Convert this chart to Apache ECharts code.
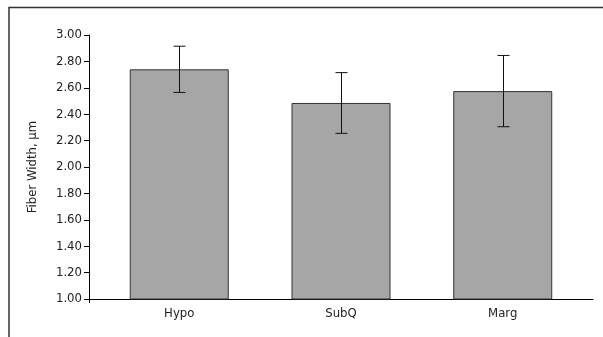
<!DOCTYPE html>
<html>
<head>
<meta charset="utf-8">
<script src="https://cdn.jsdelivr.net/npm/echarts@6/dist/echarts.min.js"></script>
<style>
  html, body { margin: 0; padding: 0; background: #fff; }
  #chart { width: 603px; height: 337px; }
</style>
</head>
<body>
<div id="chart"></div>
<script>
  // values
  const categories = ['Hypo', 'SubQ', 'Marg']
  const means = [2.74, 2.485, 2.575]
  const errors = [0.175, 0.23, 0.27]
  const yTicks = [1.0, 1.2, 1.4, 1.6, 1.8, 2.0, 2.2, 2.4, 2.6, 2.8, 3.0]

  const xMin = -0.558
  const xMax = 2.558
  const font = '"DejaVu Sans Condensed", "Liberation Sans", Arial, sans-serif'

  const chart = echarts.init(document.getElementById('chart'))

  const option = {
    animation: false,
    backgroundColor: '#fff',
    grid: { left: 89, right: 10, top: 35, bottom: 38 },
    xAxis: {
      type: 'value',
      min: xMin,
      max: xMax,
      axisLine: { show: true, onZero: false, lineStyle: { color: '#000', width: 1 } },
      axisTick: { show: true, customValues: [xMin], length: 4, lineStyle: { color: '#000' } },
      splitLine: { show: false },
      axisLabel: {
        customValues: [0, 1, 2],
        formatter: v => categories[Math.round(v)],
        color: '#222',
        fontFamily: font,
        fontSize: 13,
        margin: 8
      }
    },
    yAxis: {
      type: 'value',
      min: yTicks[0],
      max: yTicks[yTicks.length - 1],
      interval: 0.2,
      name: 'Fiber Width, µm',
      nameLocation: 'middle',
      nameGap: 50,
      nameTextStyle: { color: '#222', fontFamily: font, fontSize: 13 },
      axisLine: { show: true, onZero: false, lineStyle: { color: '#000', width: 1 } },
      axisTick: { show: true, length: 5, lineStyle: { color: '#000' } },
      splitLine: { show: false },
      axisLabel: {
        formatter: v => v.toFixed(2),
        color: '#222',
        fontFamily: font,
        fontSize: 13,
        margin: 7
      }
    },
    series: [
      {
        type: 'bar',
        barWidth: 99,
        itemStyle: { color: '#a6a6a6', borderColor: '#333', borderWidth: 1 },
        data: means.map((m, i) => [i, m])
      },
      {
        type: 'custom',
        data: means.map((m, i) => [i, m - errors[i], m + errors[i]]),
        renderItem: (params, api) => {
          const lo = api.coord([api.value(0), api.value(1)])
          const hi = api.coord([api.value(0), api.value(2)])
          const x = Math.round(lo[0]) + 0.5
          const cap = 6
          const style = { stroke: '#111', lineWidth: 1 }
          return {
            type: 'group',
            children: [
              { type: 'line', shape: { x1: x, y1: hi[1], x2: x, y2: lo[1] }, style },
              { type: 'line', shape: { x1: x - cap, y1: hi[1], x2: x + cap, y2: hi[1] }, style },
              { type: 'line', shape: { x1: x - cap, y1: lo[1], x2: x + cap, y2: lo[1] }, style }
            ]
          }
        },
        z: 5
      }
    ],
    graphic: [
      {
        type: 'polyline',
        shape: { points: [[9, 337], [9, 7.5], [603, 7.5]] },
        style: { stroke: '#333', lineWidth: 1.5, fill: null }
      }
    ]
  }

  chart.setOption(option)
</script>
</body>
</html>
